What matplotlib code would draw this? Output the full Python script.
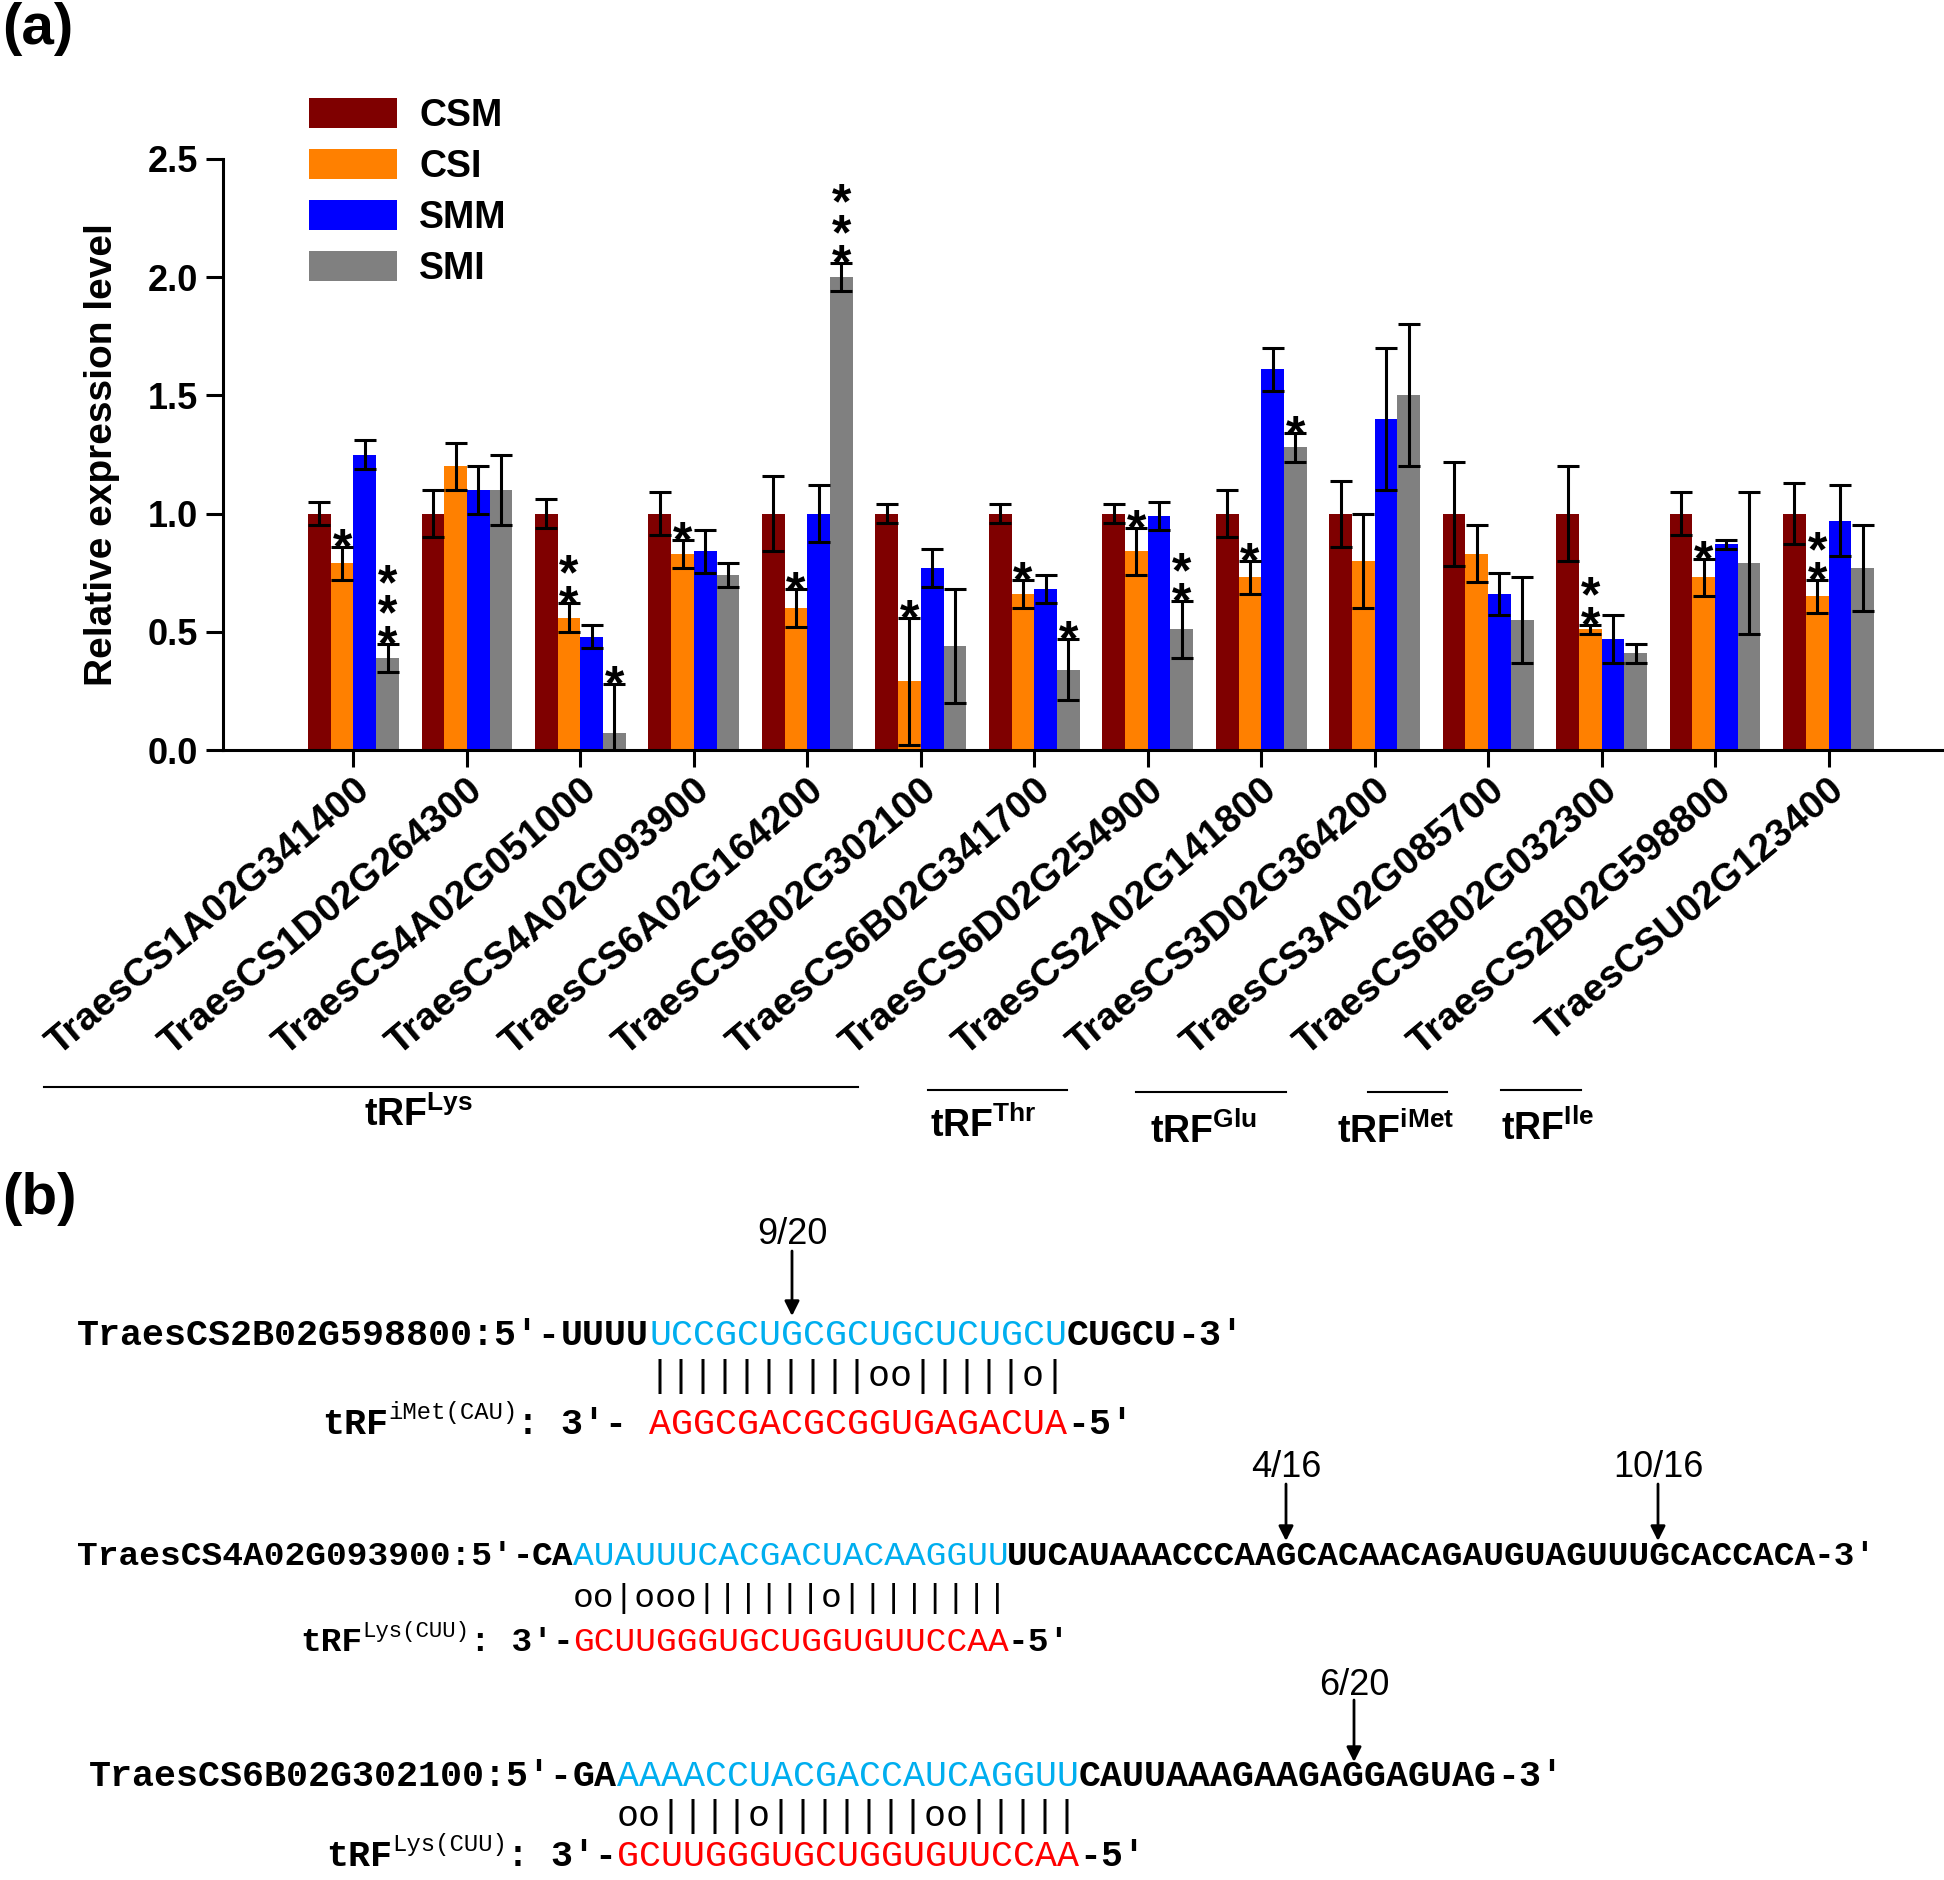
import numpy as np
import matplotlib
matplotlib.use('Agg')
import matplotlib.pyplot as plt
from matplotlib.patches import Patch
from matplotlib.transforms import ScaledTranslation, blended_transform_factory

# --- data ---
GENES = ['TraesCS1A02G341400', 'TraesCS1D02G264300', 'TraesCS4A02G051000',
         'TraesCS4A02G093900', 'TraesCS6A02G164200', 'TraesCS6B02G302100',
         'TraesCS6B02G341700', 'TraesCS6D02G254900', 'TraesCS2A02G141800',
         'TraesCS3D02G364200', 'TraesCS3A02G085700', 'TraesCS6B02G032300',
         'TraesCS2B02G598800', 'TraesCSU02G123400']
SERIES = ['CSM', 'CSI', 'SMM', 'SMI']

CSM = [1.0] * 14
CSM_ERR = [0.05, 0.10, 0.06, 0.09, 0.16, 0.04, 0.04, 0.04, 0.10, 0.14, 0.22, 0.20, 0.09, 0.13]
CSI = [0.79, 1.20, 0.56, 0.83, 0.60, 0.29, 0.66, 0.84, 0.73, 0.80, 0.83, 0.51, 0.73, 0.65]
CSI_ERR = [0.07, 0.10, 0.06, 0.06, 0.08, 0.27, 0.06, 0.10, 0.07, 0.20, 0.12, 0.02, 0.08, 0.07]
SMM = [1.25, 1.10, 0.48, 0.84, 1.00, 0.77, 0.68, 0.99, 1.61, 1.40, 0.66, 0.47, 0.87, 0.97]
SMM_ERR = [0.06, 0.10, 0.05, 0.09, 0.12, 0.08, 0.06, 0.06, 0.09, 0.30, 0.09, 0.10, 0.02, 0.15]
SMI = [0.39, 1.10, 0.07, 0.74, 2.00, 0.44, 0.34, 0.51, 1.28, 1.50, 0.55, 0.41, 0.79, 0.77]
SMI_ERR = [0.06, 0.15, 0.21, 0.05, 0.06, 0.24, 0.13, 0.12, 0.06, 0.30, 0.18, 0.04, 0.30, 0.18]

# number of significance stars per bar
CSM_STARS = [0] * 14
CSI_STARS = [1, 0, 2, 1, 1, 1, 1, 1, 1, 0, 0, 2, 1, 2]
SMM_STARS = [0] * 14
SMI_STARS = [3, 0, 1, 0, 3, 0, 1, 2, 1, 0, 0, 0, 0, 0]

# tRF families under the gene labels: (name, first x, last x, text x) in group units
TRF_GROUPS = [('Lys', -2.73, 4.45, 0.57), ('Thr', 5.06, 6.29, 5.55),
              ('Glu', 6.90, 8.22, 7.49), ('iMet', 8.94, 9.64, 9.18),
              ('Ile', 10.11, 10.82, 10.52)]

# panel (b): target / tRF pairings
ROW_NAMES = ['TraesCS2B02G598800', 'TraesCS4A02G093900', 'TraesCS6B02G302100']
ROW_5P = ['UUUU', 'CA', 'GA']
ROW_SITE = ['UCCGCUGCGCUGCUCUGCU', 'AUAUUUCACGACUACAAGGUU', 'AAAACCUACGACCAUCAGGUU']
ROW_3P = ['CUGCU', 'UUCAUAAACCCAAGCACAACAGAUGUAGUUUGCACCACA', 'CAUUAAAGAAGAGGAGUAG']
ROW_PAIR = ['||||||||||oo|||||o|', 'oo|ooo||||||o||||||||', 'oo||||o|||||||oo|||||']
ROW_TRF = ['iMet(CAU)', 'Lys(CUU)', 'Lys(CUU)']
ROW_TRF_SEQ = ['AGGCGACGCGGUGAGACUA', 'GCUUGGGUGCUGGUGUUCCAA', 'GCUUGGGUGCUGGUGUUCCAA']
ROW_CUTS = [[('9/20', 10)], [('4/16', 36), ('10/16', 54)], [('6/20', 35)]]

COLORS = ['#7F0000', '#FF8000', '#0000FF', '#808080']

plt.rcParams['font.family'] = ['Liberation Sans', 'DejaVu Sans']
plt.rcParams['mathtext.fontset'] = 'custom'
plt.rcParams['mathtext.rm'] = 'Liberation Sans'
plt.rcParams['mathtext.bf'] = 'Liberation Sans:bold'
MONO = ['Liberation Mono', 'DejaVu Sans Mono']

W, H = 1944, 1880
fig = plt.figure(figsize=(W / 100, H / 100), dpi=100)

# ---------------- panel (a) ----------------
ax = fig.add_axes([223 / W, 1 - 750 / H, (1942 - 223) / W, (750 - 159) / H])
x = np.arange(len(GENES))
width = 0.2
vals = [CSM, CSI, SMM, SMI]
errs = [CSM_ERR, CSI_ERR, SMM_ERR, SMI_ERR]
stars = [CSM_STARS, CSI_STARS, SMM_STARS, SMI_STARS]

for k in range(4):
    xs = x + (k - 1.5) * width
    ax.bar(xs, vals[k], width, color=COLORS[k], zorder=2)
    ax.errorbar(xs, vals[k], yerr=errs[k], fmt='none', ecolor='black',
                elinewidth=2.2, capsize=8.2, capthick=2.2, zorder=3)
    for xi, v, e, n in zip(xs, vals[k], errs[k], stars[k]):
        if n:
            # stacked asterisks drawn as one text
            ax.annotate('\n'.join(['*'] * n), xy=(xi, v + e), xytext=(0, -12),
                        textcoords='offset points', ha='center', va='baseline',
                        fontsize=36, fontweight='bold', linespacing=0.57,
                        multialignment='center')

ax.set_xlim(-1.15, 14.0)
ax.set_ylim(0, 2.5)
ax.set_yticks(np.arange(0, 2.51, 0.5))
ax.set_yticklabels([f'{v:.1f}' for v in np.arange(0, 2.51, 0.5)],
                   fontsize=26, fontweight='bold')
ax.set_xticks(x)
ax.set_xticklabels(GENES, rotation=40, ha='right', va='top',
                   rotation_mode='anchor', fontsize=28, fontweight='bold')
offset = ScaledTranslation(-0.14, 0, fig.dpi_scale_trans)
for lab in ax.get_xticklabels():
    lab.set_transform(lab.get_transform() + offset)
ax.tick_params(axis='both', direction='out', length=12, width=2.2)
ax.tick_params(axis='x', pad=4)
ax.tick_params(axis='y', pad=6)
for s in ['top', 'right']:
    ax.spines[s].set_visible(False)
for s in ['left', 'bottom']:
    ax.spines[s].set_linewidth(2.2)
ax.set_ylabel('Relative expression level', fontsize=28, fontweight='bold')
ax.yaxis.set_label_coords(-0.06, 0.5)

handles = [Patch(facecolor=c, edgecolor='none') for c in COLORS]
fig.legend(handles, SERIES, loc='upper left', bbox_to_anchor=(309 / W, 1 - 98 / H),
           frameon=False, prop={'weight': 'bold', 'size': 27}, handlelength=2.35,
           handleheight=0.85, handletextpad=0.59, labelspacing=0.4,
           borderpad=0, borderaxespad=0)

trans = blended_transform_factory(ax.transData, fig.transFigure)
group_y = [1087, 1090, 1092, 1092, 1090]
group_ty = [1126, 1137, 1143, 1143, 1140]
for (name, a, b, tx), ly, ty in zip(TRF_GROUPS, group_y, group_ty):
    ax.plot([a, b], [1 - ly / H] * 2, transform=trans, clip_on=False,
            color='black', lw=1.5)
    ax.text(tx, 1 - ty / H, r'$\mathbf{tRF}^{\mathbf{%s}}$' % name, transform=trans,
            ha='center', va='baseline', fontsize=27)

fig.text(2 / W, 1 - 2 / H, '(a)', fontsize=42, fontweight='bold', ha='left', va='top')
fig.text(2 / W, 1 - 1199 / H, '(b)', fontsize=42, fontweight='bold', ha='left', va='center')

# ---------------- panel (b) ----------------
ob = fig.add_axes([0, 0, 1, 1])
ob.set_xlim(0, W)
ob.set_ylim(H, 0)
ob.axis('off')
ob.patch.set_visible(False)

# layout per row: x0, seq baseline, pair baseline, tRF baseline, font size,
# cut label baseline, arrow start, arrow tip
ROW_LAYOUT = [(77, 1345, 1386, 1434, 26.4, 1244, 1251, 1316),
              (77, 1565, 1607, 1651, 24.8, 1477, 1484, 1541),
              (89, 1786, 1826, 1866, 26.4, 1695, 1700, 1762)]
BLUE, RED = '#00AEEF', '#FF0000'

for r in range(3):
    x0, ys, yp, yt, fs, yl, ya0, ya1 = ROW_LAYOUT[r]
    cw = 0.6 * fs * 100 / 72
    parts = [(ROW_NAMES[r] + ':5\u2032-', 'black', 'bold'),
             (ROW_5P[r], 'black', 'bold'),
             (ROW_SITE[r], BLUE, 'normal'),
             (ROW_3P[r], 'black', 'bold'),
             ('-3\u2032', 'black', 'bold')]
    i = 0
    for s, c, wgt in parts:
        ob.text(x0 + i * cw, ys, s, color=c, fontsize=fs, fontweight=wgt,
                family=MONO, ha='left', va='baseline')
        i += len(s)
    site_x = x0 + (len(parts[0][0]) + len(ROW_5P[r])) * cw
    ob.text(site_x, yp, ROW_PAIR[r], fontsize=fs, family=MONO, ha='left', va='baseline')

    # tRF line, red sequence aligned under the target site
    mid = ': 3\u2032- ' if r == 0 else ': 3\u2032-'
    xm = site_x - len(mid) * cw
    xs_ = xm - len(ROW_TRF[r]) * cw * 0.65
    xt = xs_ - 3 * cw
    ob.text(xt, yt, 'tRF', fontsize=fs, fontweight='bold', family=MONO, ha='left', va='baseline')
    ob.text(xs_, yt - 0.42 * fs * 100 / 72, ROW_TRF[r], fontsize=fs * 0.65,
            family=MONO, ha='left', va='baseline')
    ob.text(xm, yt, mid, fontsize=fs, fontweight='bold', family=MONO, ha='left', va='baseline')
    ob.text(site_x, yt, ROW_TRF_SEQ[r], fontsize=fs, color=RED, family=MONO,
            ha='left', va='baseline')
    ob.text(site_x + len(ROW_TRF_SEQ[r]) * cw, yt, '-5\u2032', fontsize=fs,
            fontweight='bold', family=MONO, ha='left', va='baseline')

    for lab, idx in ROW_CUTS[r]:
        xc = site_x - len(ROW_5P[r]) * cw + (idx + 0.5) * cw
        ob.text(xc, yl, lab, fontsize=26, ha='center', va='baseline')
        ob.annotate('', xy=(xc, ya1), xytext=(xc, ya0),
                    arrowprops=dict(arrowstyle='-|>', color='black', lw=2,
                                    mutation_scale=22, shrinkA=0, shrinkB=0))

fig.savefig('out.png', dpi=100)
